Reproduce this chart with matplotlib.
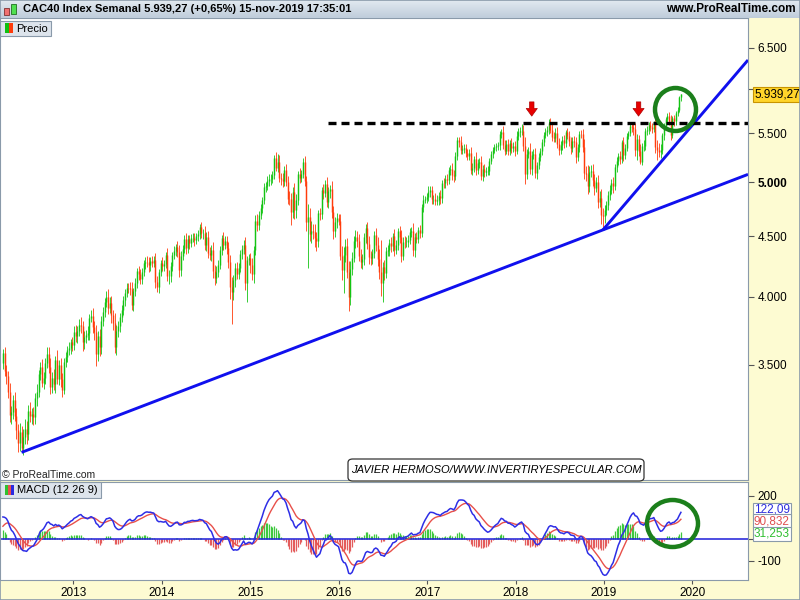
import numpy as np
import pandas as pd
import matplotlib
matplotlib.use('Agg')
import matplotlib.pyplot as plt
import matplotlib.dates as mdates
from matplotlib.patches import Rectangle, Ellipse, FancyBboxPatch
from matplotlib.colors import LinearSegmentedColormap
from matplotlib.transforms import blended_transform_factory

plt.rcParams['font.family'] = ['Liberation Sans', 'DejaVu Sans']

# weekly closes before the first visible bar (only used to warm up the MACD)
prior_close = [3278, 3213, 2976, 3063, 3098, 2938, 3000, 2809, 2982, 3096, 3197, 3119, 3348,
               3124, 3123, 2997, 2822, 3155, 3116, 2986, 3101, 3160, 3137, 3197, 3298, 3318,
               3413, 3374, 3437, 3440, 3501, 3511]

# weekly closes, 16-mar-2012 .. 15-nov-2019
close_2012 = [3580, 3460, 3424, 3320, 3176, 3190, 3267, 3170, 3079, 3005, 3070, 2975, 3042, 3087,
              3060, 3196, 3168, 3180, 3158, 3280, 3319, 3438, 3482, 3381, 3414, 3514, 3577, 3487,
              3355, 3414, 3371, 3531, 3404, 3499, 3404, 3335, 3523, 3557, 3601, 3614, 3661, 3641]
close_2013 = [3733, 3706, 3741, 3785, 3773, 3659, 3697, 3712, 3723, 3837, 3853, 3771, 3731, 3574,
              3702, 3621, 3813, 3881, 3957, 3996, 3915, 3949, 3859, 3800, 3625, 3739, 3775, 3840,
              3897, 3969, 4030, 4068, 4066, 4060, 3934, 4040, 4110, 4203, 4178, 4142, 4198, 4268,
              4283, 4276, 4250, 4290, 4274, 4295, 4112, 4074, 4194, 4273]
close_2014 = [4248, 4262, 4336, 4161, 4165, 4244, 4336, 4373, 4408, 4366, 4213, 4333, 4392, 4477,
              4395, 4473, 4443, 4486, 4487, 4464, 4499, 4519, 4580, 4526, 4528, 4423, 4489, 4354,
              4335, 4378, 4202, 4148, 4197, 4254, 4381, 4486, 4425, 4461, 4394, 4282, 4073, 4033,
              4128, 4233, 4183, 4229, 4347, 4390, 4427, 4108, 4293, 4314]
close_2015 = [4252, 4179, 4379, 4640, 4604, 4691, 4759, 4830, 4951, 4964, 5010, 5034, 5034, 5074,
              5240, 5144, 5201, 5046, 5031, 5010, 5117, 5007, 4842, 4839, 4715, 4910, 4734, 4826,
              5084, 5045, 5083, 5203, 5013, 4630, 4675, 4520, 4545, 4535, 4480, 4458, 4705, 4702,
              4923, 4897, 4985, 4808, 4911, 4930, 4716, 4549, 4625, 4664]
close_2016 = [4637, 4333, 4210, 4336, 4417, 4200, 3995, 4224, 4315, 4456, 4492, 4462, 4329, 4279,
              4303, 4495, 4570, 4428, 4322, 4312, 4353, 4514, 4421, 4306, 4193, 4106, 4237, 4190,
              4372, 4381, 4440, 4411, 4500, 4383, 4424, 4543, 4491, 4332, 4450, 4448, 4449, 4470,
              4537, 4549, 4377, 4489, 4478, 4551, 4529, 4764, 4833, 4838, 4862]
close_2017 = [4909, 4922, 4839, 4839, 4825, 4827, 4867, 4845, 4995, 4993, 5029, 5020, 5122, 5135,
              5071, 5059, 5267, 5432, 5405, 5324, 5336, 5343, 5299, 5264, 5295, 5121, 5145, 5235,
              5118, 5190, 5203, 5061, 5133, 5105, 5112, 5113, 5214, 5282, 5330, 5360, 5363, 5373,
              5494, 5518, 5380, 5319, 5390, 5317, 5399, 5349, 5365, 5313]
close_2018 = [5471, 5517, 5527, 5529, 5364, 5079, 5283, 5317, 5136, 5274, 5282, 5095, 5167, 5258,
              5315, 5412, 5483, 5516, 5541, 5614, 5542, 5465, 5450, 5502, 5387, 5324, 5375, 5429,
              5398, 5511, 5478, 5415, 5345, 5420, 5407, 5253, 5352, 5494, 5493, 5359, 5095, 5084,
              4967, 5102, 5107, 5025, 4947, 5003, 4813, 4853, 4693, 4679]
close_2019 = [4737, 4781, 4876, 4925, 4989, 4961, 5153, 5215, 5265, 5231, 5405, 5270, 5351, 5476,
              5502, 5580, 5569, 5549, 5327, 5438, 5317, 5207, 5364, 5367, 5528, 5539, 5594, 5573,
              5552, 5610, 5359, 5327, 5300, 5326, 5480, 5582, 5655, 5690, 5640, 5488, 5665, 5636,
              5722, 5762, 5901, 5939.27]

# upper / lower wick lengths (points) per week
up_2012 = [30, 45, 40, 35, 60, 40, 35, 50, 45, 40, 55, 35, 45, 60, 50, 40, 60, 35, 45, 30, 55,
           25, 40, 60, 35, 30, 45, 50, 60, 40, 55, 30, 70, 35, 50, 40, 25, 35, 30, 45, 20, 35]
dn_2012 = [40, 35, 50, 40, 45, 55, 40, 35, 50, 55, 45, 25, 40, 45, 60, 35, 40, 50, 45, 40, 50,
           35, 40, 30, 45, 40, 35, 40, 50, 45, 40, 55, 30, 40, 50, 45, 30, 40, 35, 30, 40, 45]
up_2013 = [40, 50, 35, 45, 60, 40, 45, 35, 50, 30, 45, 60, 40, 55, 40, 50, 35, 40, 30, 45, 60,
           50, 55, 40, 70, 45, 35, 30, 40, 35, 30, 40, 35, 45, 55, 30, 40, 25, 45, 40, 35, 30,
           40, 50, 45, 30, 40, 35, 60, 50, 30, 25]
dn_2013 = [35, 45, 50, 40, 45, 60, 50, 45, 40, 50, 35, 45, 60, 80, 50, 60, 45, 40, 35, 40, 50,
           45, 60, 55, 40, 60, 45, 40, 35, 40, 45, 35, 40, 50, 40, 45, 35, 40, 50, 45, 40, 35,
           45, 40, 50, 45, 35, 40, 45, 40, 50, 30]
up_2014 = [45, 35, 30, 60, 50, 35, 30, 40, 25, 50, 60, 40, 35, 30, 55, 35, 40, 30, 40, 45, 30,
           35, 25, 50, 40, 60, 45, 60, 50, 45, 70, 55, 45, 40, 35, 25, 50, 40, 45, 55, 60, 80,
           45, 35, 50, 40, 30, 35, 40, 70, 40, 35]
dn_2014 = [45, 40, 35, 40, 60, 50, 40, 35, 40, 45, 55, 50, 40, 35, 45, 40, 50, 35, 40, 45, 35,
           40, 45, 40, 50, 45, 50, 45, 40, 50, 55, 60, 45, 40, 35, 40, 45, 40, 50, 55, 90, 243,
           60, 50, 45, 40, 35, 40, 45, 60, 150, 40]
up_2015 = [40, 60, 35, 50, 60, 40, 35, 30, 45, 40, 55, 45, 50, 40, 35, 60, 82, 70, 50, 60, 45,
           60, 50, 70, 60, 40, 80, 60, 30, 55, 40, 40, 60, 50, 120, 80, 90, 60, 70, 55, 30, 50,
           30, 60, 40, 70, 40, 45, 80, 60, 50, 45]
dn_2015 = [60, 50, 70, 40, 55, 45, 40, 50, 35, 45, 40, 50, 60, 45, 40, 35, 45, 40, 55, 60, 45,
           40, 50, 60, 115, 50, 80, 70, 45, 50, 40, 45, 50, 80, 400, 60, 80, 60, 70, 90, 50, 60,
           45, 55, 40, 45, 50, 60, 50, 70, 60, 50]
up_2016 = [40, 60, 80, 70, 60, 70, 90, 60, 50, 45, 60, 50, 55, 60, 40, 30, 40, 60, 70, 50, 40,
           30, 60, 70, 80, 277, 40, 60, 30, 40, 35, 50, 30, 60, 40, 30, 50, 60, 40, 55, 45, 40,
           35, 30, 70, 40, 50, 35, 50, 30, 40, 30, 35]
dn_2016 = [40, 40, 80, 180, 60, 50, 103, 60, 50, 40, 55, 60, 40, 50, 60, 45, 50, 40, 60, 55, 50,
           40, 50, 60, 50, 100, 151, 60, 40, 45, 50, 45, 40, 50, 40, 45, 50, 55, 40, 50, 45, 40,
           35, 40, 50, 60, 40, 35, 45, 40, 45, 30, 35]
up_2017 = [50, 40, 45, 40, 60, 50, 40, 55, 30, 45, 40, 50, 30, 40, 60, 50, 40, 30, 35, 70, 40,
           45, 50, 40, 40, 60, 50, 30, 70, 40, 35, 60, 40, 50, 40, 45, 30, 35, 30, 30, 35, 40,
           30, 30, 60, 50, 40, 50, 30, 50, 40, 50]
dn_2017 = [40, 50, 45, 50, 40, 45, 40, 50, 40, 45, 50, 45, 40, 50, 45, 60, 40, 45, 50, 40, 45,
           40, 50, 40, 45, 35, 50, 40, 45, 40, 50, 40, 45, 55, 40, 45, 40, 35, 40, 35, 40, 35,
           45, 40, 45, 50, 40, 45, 40, 50, 40, 45]
up_2018 = [60, 40, 40, 70, 60, 100, 50, 40, 80, 40, 50, 60, 40, 40, 30, 30, 30, 40, 40, 43, 60,
           60, 50, 60, 70, 60, 40, 40, 50, 30, 50, 50, 50, 40, 50, 60, 40, 30, 40, 60, 80, 70,
           90, 60, 60, 70, 60, 50, 70, 60, 80, 60]
dn_2018 = [30, 40, 50, 45, 50, 100, 50, 40, 50, 60, 40, 50, 60, 40, 45, 40, 40, 35, 40, 45, 40,
           50, 45, 40, 45, 50, 40, 45, 50, 40, 40, 50, 60, 40, 50, 60, 40, 45, 40, 50, 60, 70,
           80, 60, 50, 60, 70, 40, 60, 50, 80, 123]
up_2019 = [50, 40, 40, 50, 40, 60, 30, 35, 30, 50, 30, 60, 40, 30, 30, 30, 40, 50, 70, 60, 50,
           70, 30, 60, 30, 40, 30, 40, 40, 30, 80, 70, 70, 60, 30, 30, 30, 40, 50, 60, 30, 40,
           30, 25, 20, 6]
dn_2019 = [60, 50, 40, 50, 40, 60, 40, 50, 40, 50, 40, 60, 40, 40, 40, 30, 50, 60, 60, 100, 50,
           30, 40, 50, 40, 45, 40, 50, 45, 40, 60, 100, 50, 60, 40, 45, 40, 35, 50, 60, 40, 50,
           40, 35, 30, 40]

# drawings on the chart
support_pts = [('2012-06-01', 2950), ('2018-12-28', 4556)]
fast_trend_pts = [('2018-12-28', 4556), ('2020-08-18', 6349)]
resistance = 5614
resistance_from = '2015-11-20'
arrow_dates = ['2018-03-09', '2019-05-24']
macd_labels = [('122,09', '#2b2bdd'), ('90,832', '#e05050'), ('31,253', '#2fbf2f')]

close = np.array(close_2012 + close_2013 + close_2014 + close_2015 + close_2016
                 + close_2017 + close_2018 + close_2019, dtype=float)
up_wick = np.array(up_2012 + up_2013 + up_2014 + up_2015 + up_2016 + up_2017 + up_2018 + up_2019)
dn_wick = np.array(dn_2012 + dn_2013 + dn_2014 + dn_2015 + dn_2016 + dn_2017 + dn_2018 + dn_2019)
dates = pd.date_range(end='2019-11-15', periods=len(close), freq='W-FRI')
xd = mdates.date2num(dates.values)

opens = np.concatenate([[prior_close[-1]], close[:-1]])
high = np.maximum(opens, close) + up_wick
low = np.minimum(opens, close) - dn_wick
cols = np.where(close >= opens, '#14c414', '#ff3c0c')

# MACD (12 26 9)
full = pd.Series(prior_close + list(close))
macd_full = full.ewm(span=12, adjust=False).mean() - full.ewm(span=26, adjust=False).mean()
sig_full = macd_full.ewm(span=9, adjust=False).mean()
macd = macd_full.values[len(prior_close):]
signal = sig_full.values[len(prior_close):]
hist = macd - signal

W, H = 800, 600


def fx(x):
    return x / W


def fy(y):
    return 1 - y / H


def es_num(v, dec=0):
    s = f'{v:,.{dec}f}'
    return s.replace(',', ' ').replace('.', ',').replace(' ', '.')


grey = '#8a9aaa'
fig = plt.figure(figsize=(8, 6), dpi=100, facecolor='#fdfbd2')

ax = fig.add_axes([0, fy(480), fx(748), (480 - 18) / H])
ax2 = fig.add_axes([0, fy(580), fx(748), (580 - 482) / H])
x_left = mdates.date2num(pd.Timestamp('2012-03-04'))
x_right = mdates.date2num(pd.Timestamp('2020-08-18'))

# price panel
ax.set_facecolor('white')
ax.vlines(xd, low, high, colors=cols, lw=0.6)
ax.vlines(xd, np.minimum(opens, close), np.maximum(opens, close), colors=cols, lw=1.05)
ax.set_yscale('log')
ax.set_ylim(2795, 6892)
ax.set_xlim(x_left, x_right)

# trend lines (extended to the right edge in log space)
(d1, p1), (d2, p2) = support_pts
t1, t2 = mdates.date2num(pd.Timestamp(d1)), mdates.date2num(pd.Timestamp(d2))
slope = (np.log(p2) - np.log(p1)) / (t2 - t1)
ax.plot([t1, x_right], [p1, np.exp(np.log(p1) + slope * (x_right - t1))],
        color='#1010ee', lw=2.1, solid_capstyle='butt')
ax.plot([mdates.date2num(pd.Timestamp(d)) for d, _ in fast_trend_pts],
        [p for _, p in fast_trend_pts], color='#1010ee', lw=2.1, solid_capstyle='butt')
ax.hlines(resistance, mdates.date2num(pd.Timestamp(resistance_from)), x_right,
          colors='black', lw=2.4, linestyles=(0, (2.4, 1.5)))
for d in arrow_dates:
    t = mdates.date2num(pd.Timestamp(d))
    ax.annotate('', xy=(t, 5690), xytext=(t, 5850),
                arrowprops=dict(facecolor='#e80000', edgecolor='#b00000', lw=0.5,
                                width=3.2, headwidth=8, headlength=5.5, shrink=0))

yt = [3500, 4000, 4500, 5000, 5500, 6000, 6500]
ax.yaxis.tick_right()
ax.set_yticks(yt)
# 6.000 sits under the last-price box in the original
ax.set_yticklabels(['' if v == 6000 else es_num(v) for v in yt])
ax.minorticks_off()
ax.tick_params(axis='y', direction='out', length=4, pad=3, labelsize=8.5, color='#555555')
for lbl in ax.get_yticklabels():
    if lbl.get_text() == '5.000':
        lbl.set_fontweight('bold')
ax.set_xticks([])
for s in ax.spines.values():
    s.set_color(grey)

bt = blended_transform_factory(ax.transAxes, ax.transData)
ax.text(1 + 6 / 748, close[-1], es_num(close[-1], 2),
        transform=bt, va='center', ha='left', fontsize=8.5, clip_on=False, zorder=10,
        bbox=dict(boxstyle='square,pad=0.12', fc='#ffd42a', ec='#c89400', lw=0.8))

# MACD panel
ax2.set_facecolor('white')
ax2.vlines(xd, 0, hist, colors=np.where(hist >= 0, '#3ec83e', '#e45c5c'), lw=0.9)
ax2.axhline(0, color='#1c1cd8', lw=1.1)
ax2.plot(xd, signal, color='#e8504a', lw=1.0)
ax2.plot(xd, macd, color='#2e2ee6', lw=1.1)
ax2.set_xlim(x_left, x_right)
ax2.set_ylim(-189, 263)
ax2.yaxis.tick_right()
ax2.set_yticks([200, 0, -100])
ax2.set_yticklabels(['200', '', '-100'])
ax2.tick_params(axis='y', direction='out', length=4, pad=3, labelsize=8.5, color='#555555')
years = list(range(2013, 2021))
ax2.set_xticks([mdates.date2num(pd.Timestamp(f'{y}-01-01')) for y in years])
ax2.set_xticklabels([str(y) for y in years])
ax2.tick_params(axis='x', direction='out', length=3, pad=2, labelsize=8.5, color='#555555')
for s in ax2.spines.values():
    s.set_color(grey)

for (txt, c), y in zip(macd_labels, [510, 521, 534]):
    fig.text(fx(754), fy(y), txt, color=c, fontsize=8.5, va='center', ha='left',
             bbox=dict(boxstyle='square,pad=0.12', fc='white', ec=grey, lw=0.8), zorder=10)

# green circles
fig.add_artist(Ellipse((fx(675.5), fy(109.5)), 41 / W, 43 / H, transform=fig.transFigure,
                       fill=False, ec='#1b7f1b', lw=3.2, zorder=20))
fig.add_artist(Ellipse((fx(672.5), fy(523.5)), 51 / W, 47 / H, transform=fig.transFigure,
                       fill=False, ec='#1b7f1b', lw=3.2, zorder=20))

# header band
hax = fig.add_axes([0, fy(18), 1, 18 / H])
hax.imshow(np.linspace(0, 1, 18)[:, None], aspect='auto', extent=[0, 1, 0, 1],
           cmap=LinearSegmentedColormap.from_list('hdr', ['#e2e9f0', '#bfcddb']))
hax.set_xlim(0, 1)
hax.set_ylim(0, 1)
hax.axis('off')
hax.add_patch(Rectangle((4 / W, 3 / 18), 5 / W, 7 / 18, fc='#f07070', ec='#803030', lw=0.6))
hax.add_patch(Rectangle((11 / W, 4 / 18), 5 / W, 10 / 18, fc='#50e050', ec='#207020', lw=0.6))
hax.text(23 / W, 0.5, 'CAC40 Index Semanal 5.939,27 (+0,65%) 15-nov-2019 17:35:01',
         fontsize=8, fontweight='bold', va='center', ha='left')
hax.text(796 / W, 0.5, 'www.ProRealTime.com', fontsize=8.5, fontweight='bold',
         va='center', ha='right')

# legend boxes
fig.add_artist(Rectangle((fx(0), fy(36)), 51 / W, 15 / H, transform=fig.transFigure,
                         fc='#dde4ec', ec=grey, lw=0.8, zorder=5))
fig.add_artist(Rectangle((fx(5), fy(33)), 4 / W, 10 / H, transform=fig.transFigure,
                         fc='#10c010', ec='none', zorder=6))
fig.add_artist(Rectangle((fx(9), fy(33)), 4 / W, 10 / H, transform=fig.transFigure,
                         fc='#ff3c0c', ec='none', zorder=6))
fig.text(fx(16), fy(28.5), 'Precio', fontsize=8, va='center', ha='left', zorder=7)

fig.add_artist(Rectangle((fx(0), fy(498)), 101 / W, 16 / H, transform=fig.transFigure,
                         fc='#dde4ec', ec=grey, lw=0.8, zorder=5))
for i, c in enumerate(['#30c030', '#e85050', '#2a2ae0']):
    fig.add_artist(Rectangle((fx(5 + 3 * i), fy(495)), 3 / W, 10 / H, transform=fig.transFigure,
                             fc=c, ec='none', zorder=6))
fig.text(fx(17), fy(490), 'MACD (12 26 9)', fontsize=8, va='center', ha='left', zorder=7)

fig.text(fx(2), fy(475), '© ProRealTime.com', fontsize=7.5, va='center', ha='left', color='#222222')

fig.add_artist(FancyBboxPatch((fx(348), fy(481)), 296 / W, 22 / H, transform=fig.transFigure,
                              boxstyle='round,pad=0,rounding_size=0.006', fc='white',
                              ec='#333333', lw=0.9, zorder=8))
fig.text(fx(496), fy(470), 'JAVIER HERMOSO/WWW.INVERTIRYESPECULAR.COM', fontsize=8,
         fontstyle='italic', va='center', ha='center', zorder=9)

# outer frame
fig.add_artist(Rectangle((0, 0), 1, 1, transform=fig.transFigure, fill=False,
                         ec=grey, lw=1.2, zorder=30))

fig.savefig('out.png', dpi=100, facecolor=fig.get_facecolor())
